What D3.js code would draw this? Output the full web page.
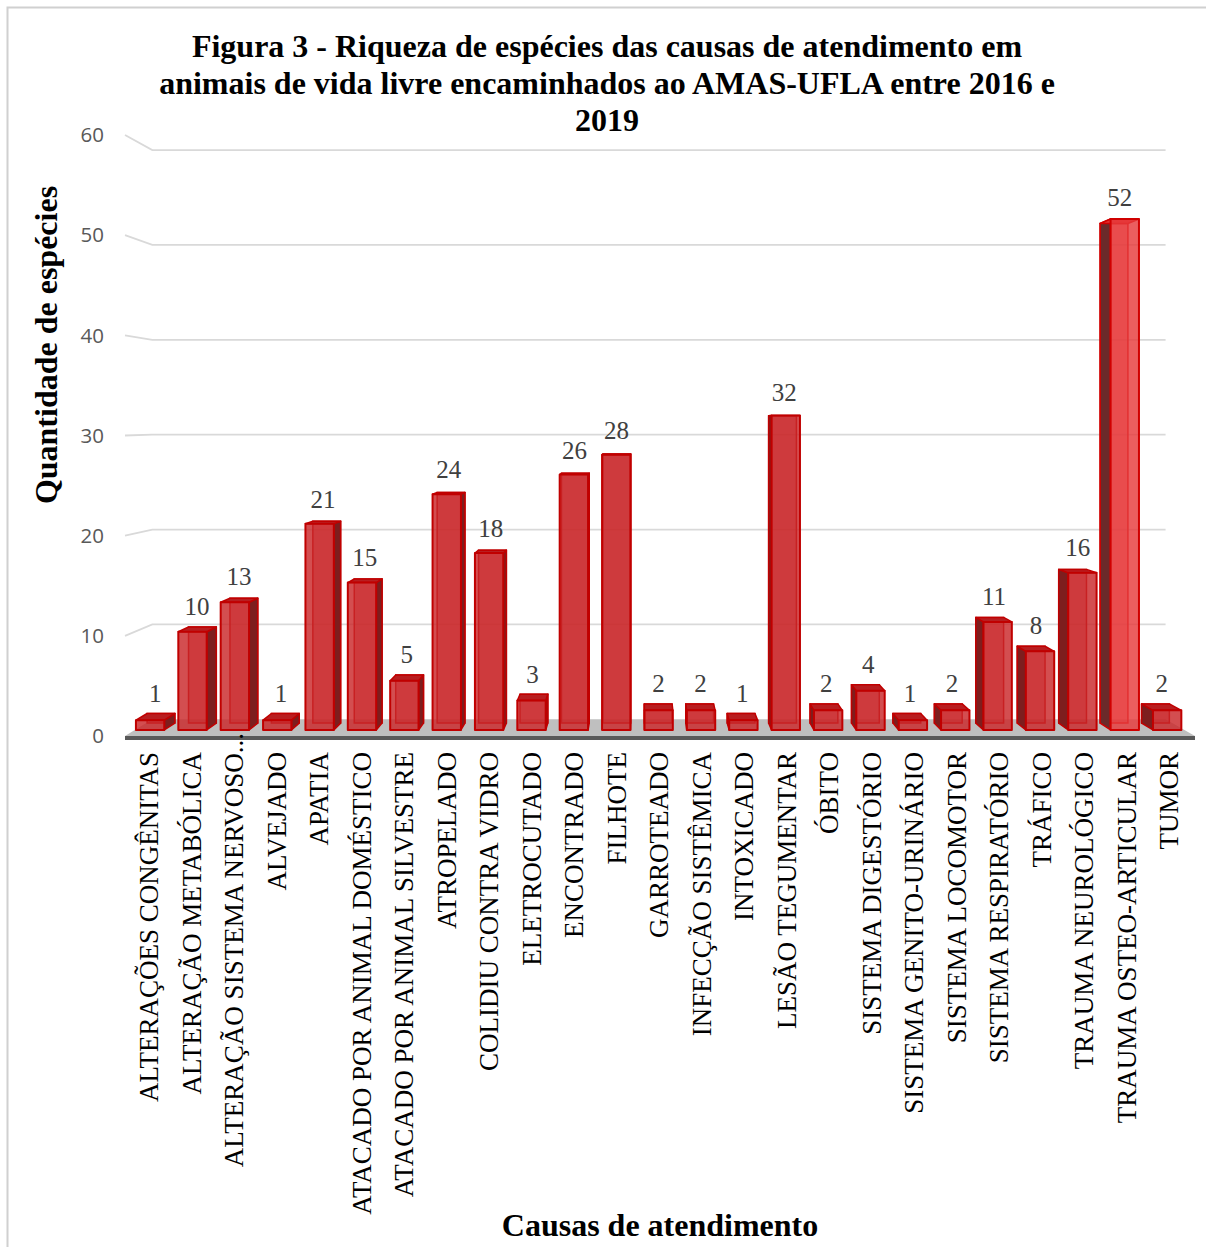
<!DOCTYPE html>
<html>
<head>
<meta charset="utf-8">
<script src="https://cdn.jsdelivr.net/npm/d3@7"></script>
<style>
body { margin: 0; background: #fff; }
</style>
</head>
<body>
<div id="chart"></div>
<script>
var categories = ["ALTERAÇÕES CONGÊNITAS", "ALTERAÇÃO METABÓLICA", "ALTERAÇÃO SISTEMA NERVOSO...",
  "ALVEJADO", "APATIA", "ATACADO POR ANIMAL DOMÉSTICO", "ATACADO POR ANIMAL SILVESTRE",
  "ATROPELADO", "COLIDIU CONTRA VIDRO", "ELETROCUTADO", "ENCONTRADO", "FILHOTE", "GARROTEADO",
  "INFECÇÃO SISTÊMICA", "INTOXICADO", "LESÃO TEGUMENTAR", "ÓBITO", "SISTEMA DIGESTÓRIO",
  "SISTEMA GENITO-URINÁRIO", "SISTEMA LOCOMOTOR", "SISTEMA RESPIRATÓRIO", "TRÁFICO",
  "TRAUMA NEUROLÓGICO", "TRAUMA OSTEO-ARTICULAR", "TUMOR"];
var values = [1, 10, 13, 1, 21, 15, 5, 24, 18, 3, 26, 28, 2, 2, 1, 32, 2, 4, 1, 2, 11, 8, 16, 52, 2];
var yTicks = [0, 10, 20, 30, 40, 50, 60];
var titleLines = ["Figura 3 - Riqueza de espécies das causas de atendimento em",
  "animais de vida livre encaminhados ao AMAS-UFLA entre 2016 e", "2019"];

var width = 1206, height = 1247;
var serif = "'Liberation Serif', 'Times New Roman', serif";

var svg = d3.select("#chart").append("svg")
  .attr("width", width)
  .attr("height", height);

// outer border
svg.append("rect")
  .attr("x", 7.5).attr("y", 7.5)
  .attr("width", 1250).attr("height", 1300)
  .attr("fill", "none")
  .attr("stroke", "#d0d0d0")
  .attr("stroke-width", 2);

var x = d3.scaleBand()
  .domain(categories)
  .range([119, 1199])
  .paddingInner(0.33)
  .paddingOuter(0.165);

var y = d3.scaleLinear()
  .domain([0, 60])
  .range([736, 135]);

// perspective: point on front plane moved towards vanishing point by depth
var vp = [640, 420], depth = 0.053;
function P(px, v, z) {
  var X = px, Y = y(v), t = z * depth;
  return [X + (vp[0] - X) * t, Y + (vp[1] - Y) * t];
}
function poly(pts) { return pts.map(function (p) { return p[0] + "," + p[1]; }).join(" "); }

// floor
var fx0 = 125, fx1 = 1195;
svg.append("polygon")
  .attr("points", poly([P(fx0, 0, 0), P(fx1, 0, 0), P(fx1, 0, 1), P(fx0, 0, 1)]))
  .attr("fill", "#bfbfbf");
svg.append("polygon")
  .attr("points", poly([P(fx0, 0, 0), P(fx1, 0, 0), [P(fx1, 0, 0)[0], P(fx1, 0, 0)[1] + 4], [P(fx0, 0, 0)[0], P(fx0, 0, 0)[1] + 4]]))
  .attr("fill", "#595959");

// gridlines (side wall + back wall)
var grid = svg.append("g");
yTicks.filter(function (d) { return d > 0; }).forEach(function (v) {
  var a = P(fx0, v, 0), b = P(fx0, v, 1), c = P(fx1, v, 1);
  grid.append("polyline")
    .attr("points", poly([a, b, c]))
    .attr("fill", "none")
    .attr("stroke", "#d9d9d9")
    .attr("stroke-width", 1.8);
});

// y tick labels
svg.selectAll(".ytick")
  .data(yTicks)
  .enter().append("text")
  .attr("class", "ytick")
  .attr("x", 104)
  .attr("y", function (d) { return y(d); })
  .attr("dy", "0.35em")
  .attr("text-anchor", "end")
  .attr("font-family", "'Open Sans', sans-serif")
  .attr("font-size", 20.5)
  .attr("fill", "#595959")
  .text(function (d) { return d; });

// bars
var data = categories.map(function (c, i) { return {cat: c, v: values[i]}; });
var maxV = d3.max(values);
var z0 = 0.36, z1 = 0.77;
var bars = svg.selectAll(".bar")
  .data(data)
  .enter().append("g")
  .attr("class", "bar");

bars.each(function (d) {
  var g = d3.select(this);
  var x0 = x(d.cat), x1 = x0 + x.bandwidth();
  var hi = d.v === maxV;
  var front = hi ? "#e63a3c" : "#c9272a";
  var side = hi ? "#6b2a2a" : "#7d1e1e";
  var edge = hi ? "#d00000" : "#c00000";
  var rightVisible = (x0 + x1) / 2 < vp[0];

  // back face, seen through
  g.append("polygon")
    .attr("points", poly([P(x0, 0, z1), P(x1, 0, z1), P(x1, d.v, z1), P(x0, d.v, z1)]))
    .attr("fill", front).attr("fill-opacity", 0.5)
    .attr("stroke", edge).attr("stroke-width", 1.5);
  // visible side
  var sx = rightVisible ? x1 : x0;
  g.append("polygon")
    .attr("points", poly([P(sx, 0, z0), P(sx, 0, z1), P(sx, d.v, z1), P(sx, d.v, z0)]))
    .attr("fill", side)
    .attr("stroke", edge).attr("stroke-width", 1.5).attr("stroke-linejoin", "round");
  // top
  g.append("polygon")
    .attr("points", poly([P(x0, d.v, z0), P(x1, d.v, z0), P(x1, d.v, z1), P(x0, d.v, z1)]))
    .attr("fill", hi ? "#e03030" : "#b81e20")
    .attr("stroke", edge).attr("stroke-width", 1.5).attr("stroke-linejoin", "round");
  // front face
  g.append("polygon")
    .attr("points", poly([P(x0, 0, z0), P(x1, 0, z0), P(x1, d.v, z0), P(x0, d.v, z0)]))
    .attr("fill", front).attr("fill-opacity", 0.82)
    .attr("stroke", edge).attr("stroke-width", 2).attr("stroke-linejoin", "round");
});

// value labels
svg.selectAll(".vlabel")
  .data(data)
  .enter().append("text")
  .attr("class", "vlabel")
  .attr("x", function (d) { return P(x(d.cat) + x.bandwidth() / 2, d.v, 0.55)[0]; })
  .attr("y", function (d) { return P(x(d.cat) + x.bandwidth() / 2, d.v, 0.55)[1] - 15; })
  .attr("text-anchor", "middle")
  .attr("font-family", serif)
  .attr("font-size", 25)
  .attr("fill", "#404040")
  .text(function (d) { return d.v; });

// category labels (the truncated one sits a bit higher, like excel does)
svg.selectAll(".xlabel")
  .data(data)
  .enter().append("text")
  .attr("class", "xlabel")
  .attr("transform", function (d) {
    var p = P(x(d.cat) + x.bandwidth() / 2, 0, 0.3);
    var top = /\.\.\.$/.test(d.cat) ? 733 : 752;
    return "translate(" + p[0] + "," + top + ") rotate(-90)";
  })
  .attr("dy", "0.35em")
  .attr("text-anchor", "end")
  .attr("font-family", serif)
  .attr("font-size", 27)
  .attr("fill", "#000")
  .text(function (d) { return d.cat; });

// title
svg.selectAll(".title")
  .data(titleLines)
  .enter().append("text")
  .attr("class", "title")
  .attr("x", 607)
  .attr("y", function (d, i) { return 57 + i * 37; })
  .attr("text-anchor", "middle")
  .attr("font-family", serif)
  .attr("font-weight", "bold")
  .attr("font-size", 32)
  .attr("fill", "#000")
  .text(function (d) { return d; });

// axis titles
svg.append("text")
  .attr("transform", "translate(57,345) rotate(-90)")
  .attr("text-anchor", "middle")
  .attr("font-family", serif)
  .attr("font-weight", "bold")
  .attr("font-size", 32)
  .text("Quantidade de espécies");

svg.append("text")
  .attr("x", 660)
  .attr("y", 1236)
  .attr("text-anchor", "middle")
  .attr("font-family", serif)
  .attr("font-weight", "bold")
  .attr("font-size", 32)
  .text("Causas de atendimento");
</script>
</body>
</html>
